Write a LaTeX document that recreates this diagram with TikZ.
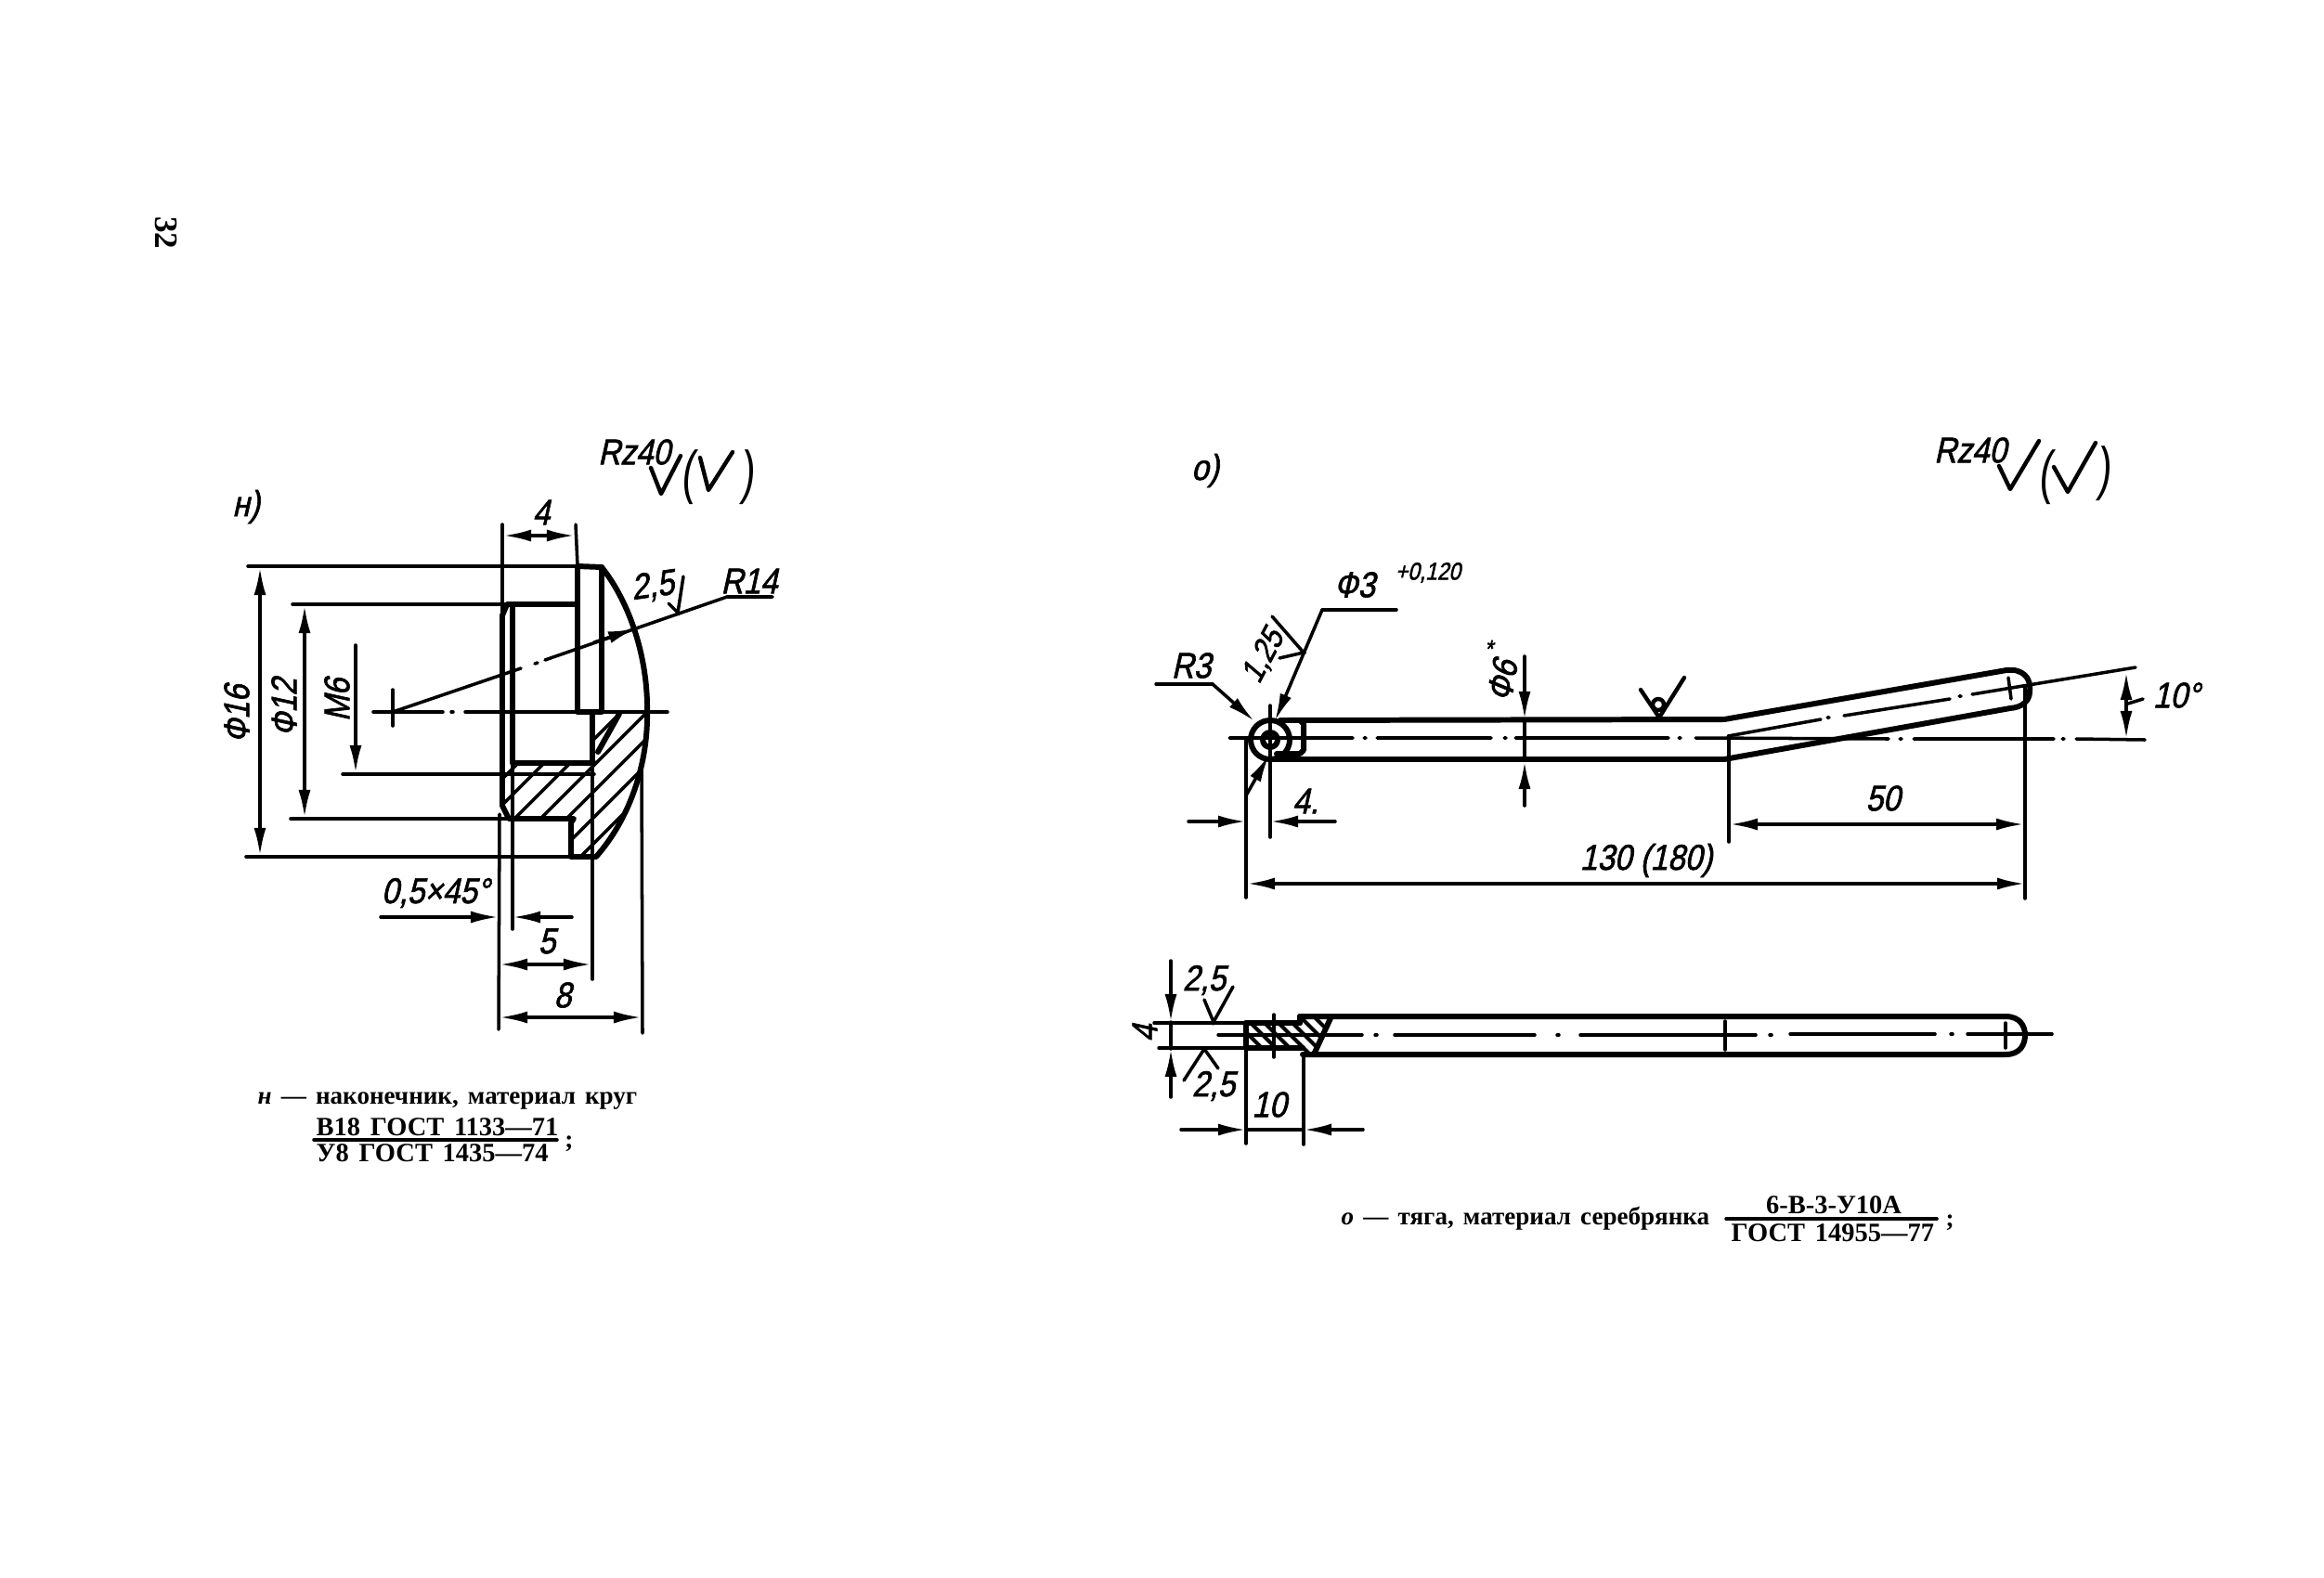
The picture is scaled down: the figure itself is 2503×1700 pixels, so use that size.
\documentclass[tikz,border=0pt]{standalone}
\usepackage{fontspec}
\usetikzlibrary{arrows.meta}
\newfontfamily\gost[FakeSlant=0.22,FakeBold=1.6,FakeStretch=0.86]{Liberation Sans}
\newfontfamily\gostthin[FakeSlant=0.1,FakeStretch=0.7]{Liberation Sans}
\newfontfamily\capfont[WordSpace=1.5]{Liberation Serif}
\tikzset{
  thickl/.style={line width=1.7pt,line cap=round,line join=round},
  thinl/.style={line width=1pt,line cap=round},
  markl/.style={line width=1.25pt,line cap=round,line join=round},
  dimtext/.style={font=\gost\fontsize{11}{11}\selectfont,inner sep=0pt},
  smalltext/.style={font=\gost\fontsize{7.5}{8}\selectfont,inner sep=0pt},
  parentext/.style={font=\gostthin\fontsize{18}{18}\selectfont,inner sep=0pt},
  captext/.style={font=\capfont\bfseries\fontsize{7.7}{8}\selectfont,inner sep=0pt},
  fractext/.style={font=\capfont\bfseries\fontsize{8.1}{8}\selectfont,inner sep=0pt},
  hatchl/.style={line width=1pt}
}
\begin{document}
\begin{tikzpicture}[>={Latex[length=3mm,width=1.3mm]},x=0.01cm,y=-0.01cm]
\useasboundingbox (0,0) rectangle (2503,1700);
\node[font=\capfont\bfseries\fontsize{10}{10}\selectfont,rotate=-90,inner sep=0pt] (pagenum) at (179,251) {32};
% view n
\node[dimtext] (viewn) at (265,546) {н)};
\node[dimtext] (rzn) at (683,487) {Rz40};
\draw[markl] (701,504) -- (712,532) -- (733,491);
\node[parentext] (parnl) at (741,514) {(};
\draw[markl] (754,493) -- (763,528) -- (789,487);
\node[parentext] (parnr) at (805,514) {)};
% hatching
\begin{scope}
  \clip (541,822) -- (638,822) -- (638,767) -- (697,767) .. controls (698,820) and (680,880) .. (642,923) -- (615,923) -- (615,886) -- (618,882) -- (548,882) -- (541,868) -- cycle;
  \foreach \c in {1352,1380,...,1580}
    \draw[hatchl] (\c-700,700) -- (\c-950,950);
\end{scope}
\draw[thickl] (644,810) -- (667,769);
% outline
\draw[thickl] (622,610) -- (648,611) .. controls (679,650) and (698,710) .. (697,767) .. controls (698,820) and (680,880) .. (642,923) -- (615,923) -- (615,886) -- (618,882) -- (548,882) -- (541,868) -- (541,663) -- (546,651) -- (622,651);
\draw[thickl] (622,610) -- (622,767) -- (648,767) -- (648,611);
\draw[thickl] (552,651) -- (552,822) -- (640,822);
\draw[thickl] (638,767) -- (638,822);
\draw[thinl] (267,610) -- (622,610);
\draw[thinl] (265,923) -- (615,923);
\draw[thinl] (315,651) -- (546,651);
\draw[thinl] (313,882) -- (548,882);
\draw[thinl] (369,834) -- (640,834);
\draw[thinl] (648,767) -- (719,767);
\draw[thinl] (402,767) -- (477,767) (486,767) -- (488,767) (501,767) -- (622,767);
\draw[thinl] (423,743) -- (423,782);
% dimensions
\draw[thinl,<->] (280,611) -- (280,922);
\node[dimtext,rotate=90] (phi16) at (255,769) {Ф16};
\draw[thinl,<->] (328,652) -- (328,881);
\node[dimtext,rotate=90] (phi12) at (306,762) {Ф12};
\draw[thinl,->] (383,695) -- (383,833);
\node[dimtext,rotate=90] (m6) at (363,754) {М6};
\draw[thinl] (541,565) -- (541,662);
\draw[thinl] (620,565) -- (622,610);
\draw[thinl,<->] (542,577) -- (619,577);
\node[dimtext] (dimfour) at (583,552) {4};
\draw[thinl] (423,767) -- (561,720) (576,715) -- (579,714) (587,711) -- (783,643) -- (832,643);
\draw[thinl,->] (640,692) -- (685,677);
\node[dimtext] (r14) at (807,626) {R14};
\node[dimtext,rotate=8] (rough25) at (703,632) {2,5};
\draw[thinl] (736,621) -- (730,660) -- (720,650);
\draw[thinl] (538,877) -- (537,1109);
\draw[thinl] (552,822) -- (552,1001);
\draw[thinl] (638,822) -- (638,1055);
\draw[thinl] (691,825) -- (692,1113);
\draw[thinl,->] (410,988) -- (537,988);
\draw[thinl,->] (616,988) -- (552,988);
\node[dimtext] (chamfer) at (469,962) {0,5×45°};
\draw[thinl,<->] (538,1039) -- (637,1039);
\node[dimtext] (dimfive) at (589,1014) {5};
\draw[thinl,<->] (538,1096) -- (691,1096);
\node[dimtext] (dimeight) at (606,1072) {8};
% caption n
\node[captext,anchor=west] (capn) at (277,1186) {\textit{н} — наконечник, материал круг};
\node[fractext,anchor=west] (capntop) at (340,1214) {В18 ГОСТ 1133—71};
\draw[thinl] (338,1228) -- (600,1228);
\node[fractext,anchor=west] (capnbot) at (340,1242) {У8 ГОСТ 1435—74};
\node[captext] (capnsemi) at (613,1232) {;};
% view o
\node[dimtext] (viewo) at (1298,507) {о)};
\node[dimtext] (rzo) at (2122,485) {Rz40};
\draw[markl] (2153,502) -- (2165,527) -- (2196,475);
\node[parentext] (parol) at (2203,514) {(};
\draw[markl] (2212,503) -- (2227,530) -- (2257,477);
\node[parentext] (paror) at (2266,510) {)};
% rod
\draw[thickl] (1379,776) -- (1857,775) -- (2161,722) .. controls (2178,720) and (2188,730) .. (2186,745) .. controls (2186,755) and (2178,762) .. (2165,763) -- (1857,818) -- (1367,818);
\draw[thickl] (1368,797) circle (21);
\draw[thickl] (1368,797) circle (8);
\draw[thickl] (1379,776) -- (1400,776) -- (1404,780) -- (1404,808) -- (1400,812) -- (1375,812);
\draw[thinl] (1324,795) -- (1457,795) (1469,795) -- (1471,795) (1483,795) -- (1606,795) (1620,795) -- (1622,795) (1632,795) -- (1797,795) (1808,795) -- (1810,795) (1826,795) -- (2034,796) (2046,796) -- (2048,796) (2061,796) -- (2212,796) (2221,796) -- (2223,796) (2236,796) -- (2310,797);
\draw[thinl] (1861,793) -- (1961,775) (1968,773) -- (1970,773) (1986,771) -- (2100,753) (2110,750) -- (2112,750) (2124,748) -- (2300,719);
\draw[thinl] (2163,730) -- (2166,753);
% rod dimensions
\draw[thinl] (1342,797) -- (1342,967);
\draw[thinl] (1368,760) -- (1368,902);
\draw[thinl,->] (1280,885) -- (1342,885);
\draw[thinl,->] (1438,885) -- (1368,885);
\node[dimtext] (dimfourb) at (1406,863) {4.};
\draw[thinl,->] (1342,857) -- (1367,813);
\draw[thinl] (1504,657) -- (1424,657);
\draw[thinl,->] (1424,657) -- (1373,777);
\node[dimtext] (phi3) at (1459,630) {Ф3};
\node[smalltext] (tol) at (1538,617) {+0,120};
\node[dimtext,rotate=62,font=\gost\fontsize{10}{10}\selectfont] (rough125) at (1361,707) {1,25};
\draw[thinl] (1370,664) -- (1404,703) -- (1378,709);
\node[dimtext] (r3) at (1283,717) {R3};
\draw[thinl] (1245,737) -- (1306,737);
\draw[thinl,->] (1306,737) -- (1351,777);
\draw[thinl,->] (1642,707) -- (1642,775);
\draw[thinl] (1642,775) -- (1642,818);
\draw[thinl,->] (1642,868) -- (1642,820);
\node[dimtext,rotate=80] (phi6) at (1618,733) {Ф6};
\node[smalltext] (star) at (1603,699) {*};
\draw[markl] (1767,743) -- (1787,773) -- (1814,730);
\draw[markl] (1786,759) circle (6);
\node[dimtext] (dimlen) at (1773,927) {130 (180)};
\draw[thinl,<->] (1343,952) -- (2181,952);
\draw[thinl] (1862,793) -- (1862,907);
\draw[thinl] (2181,740) -- (2181,968);
\draw[thinl,<->] (1863,888) -- (2180,888);
\node[dimtext] (dimfifty) at (2028,860) {50};
\draw[thinl,<->] (2290,724) -- (2290,796);
\draw[thinl] (2292,758) -- (2308,753);
\node[dimtext] (angle) at (2344,749) {10°};
% plan view
\begin{scope}
  \clip (1342,1102) -- (1400,1102) -- (1400,1095) -- (1433,1097) -- (1415,1136) -- (1403,1136) -- (1403,1129) -- (1342,1129) -- cycle;
  \foreach \c in {190,205,...,340}
    \draw[line width=1.2pt] (\c+1100,1090) -- (\c+1150,1140);
\end{scope}
\draw[thickl] (1400,1095) -- (2160,1095) .. controls (2176,1095) and (2181,1106) .. (2181,1115) .. controls (2181,1125) and (2176,1136) .. (2160,1136) -- (1403,1136);
\draw[thickl] (1433,1097) -- (1415,1136);
\draw[thickl] (1342,1102) -- (1342,1129);
\draw[thickl] (1400,1095) -- (1400,1102);
\draw[thickl] (1342,1102) -- (1400,1102);
\draw[thickl] (1342,1129) -- (1403,1129);
\draw[thinl] (1243,1102) -- (1342,1102);
\draw[thinl] (1248,1129) -- (1342,1129);
\draw[thinl] (1312,1115) -- (1467,1115) (1481,1115) -- (1483,1115) (1502,1115) -- (1653,1115) (1677,1115) -- (1679,1115) (1702,1115) -- (1891,1115) (1906,1115) -- (1908,1115) (1928,1114) -- (2084,1114) (2101,1114) -- (2103,1114) (2119,1114) -- (2210,1114);
\draw[thinl] (1372,1093) -- (1372,1139);
\draw[thinl] (1858,1100) -- (1858,1131);
\draw[thinl] (2160,1102) -- (2160,1129);
\draw[thinl] (1342,1129) -- (1342,1232);
\draw[thinl] (1404,1136) -- (1404,1233);
\draw[thinl,->] (1272,1217) -- (1342,1217);
\draw[thinl,->] (1468,1217) -- (1404,1217);
\draw[thinl] (1342,1217) -- (1404,1217);
\node[dimtext] (dimten) at (1367,1190) {10};
\draw[thinl,->] (1261,1035) -- (1261,1101);
\draw[thinl,->] (1261,1182) -- (1261,1130);
\draw[thinl] (1261,1101) -- (1261,1130);
\node[dimtext,rotate=90] (dimfourc) at (1233,1113) {4};
\node[dimtext] (roughup) at (1297,1056) {2,5};
\draw[thinl] (1297,1077) -- (1307,1101) -- (1328,1063);
\node[dimtext] (roughdn) at (1307,1170) {2,5};
\draw[thinl] (1312,1151) -- (1297,1130) -- (1275,1164);
% caption o
\node[captext,anchor=west] (capo) at (1444,1313) {\textit{о} — тяга, материал серебрянка};
\node[fractext] (capotop) at (1975,1298) {6-В-3-У10А};
\draw[thinl] (1859,1313) -- (2086,1313);
\node[fractext,anchor=west] (capobot) at (1864,1328) {ГОСТ 14955—77};
\node[captext] (caposemi) at (2100,1317) {;};
\end{tikzpicture}
\end{document}
